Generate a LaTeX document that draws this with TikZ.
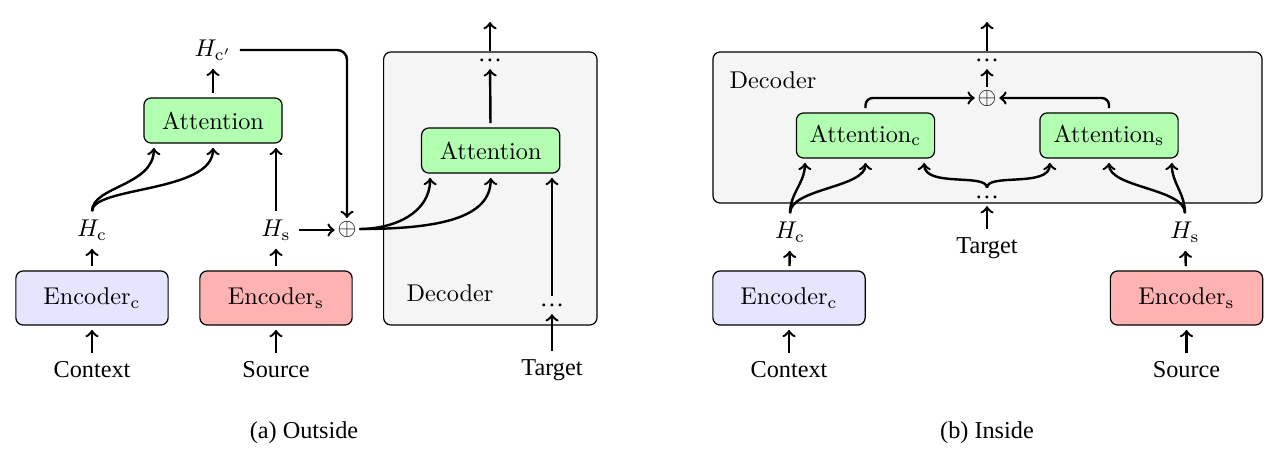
\documentclass[tikz,border=0pt]{standalone}
\usepackage{fontspec}
\newfontfamily\timesfont{Liberation Serif}
\usetikzlibrary{positioning}

\tikzset{
	box/.style={draw, rounded corners=3pt, line width=0.5pt, outer sep=2pt},
	enc/.style={box, minimum width=62.8pt, minimum height=22.3pt},
	att/.style={box, fill=green!30, minimum width=57pt, minimum height=18.6pt},
	dec/.style={draw, rounded corners=3pt, line width=0.5pt, fill=black!4},
	word/.style={font=\timesfont},
	dots/.style={inner sep=3pt, font=\timesfont},
	sum/.style={inner sep=1pt},
	arr/.style={->, line width=1pt},
}

\begin{document}
\begin{tikzpicture}[x=0.0145cm, y=-0.0145cm]
				\useasboundingbox (0,0) rectangle (1284,454);
				
				% (a) outside
				\node[dec, minimum width=88pt, minimum height=112.6pt] (dec) at (490.3,188.5) {};
				\node                               (declabel) at (450,293) {Decoder};
				
				\node[enc, fill=blue!10]                               (encc) at (92,298) {Encoder$_\mathrm{c}$};
				\node[enc, fill=red!30]                               (encs) at (276,298) {Encoder$_\mathrm{s}$};
				\node[word]                               (context) at (92,370) {Context};
				\node[word]                               (source) at (276,370) {Source};
				\node                               (hc) at (92,230) {$H_\mathrm{c}$};
				\node                               (hs) at (276,230) {$H_\mathrm{s}$};
				\node[att]                               (att) at (213,120.5) {Attention};
				\node                               (hcp) at (213,50) {$H_{\mathrm{c}'}$};
				\node[sum]                               (plus) at (347,229) {$\oplus$};
				
				\node[att]                               (attd) at (490.7,150.5) {Attention};
				\node[dots]                               (dtop) at (490,60) {\dots};
				\coordinate                               (out) at (490,22);
				\node[dots]                               (dbot) at (552,305) {\dots};
				\node[word]                               (target) at (552,370) {Target};
				
				\draw[arr] (context) -- (encc);
				\draw[arr] (source) -- (encs);
				\draw[arr] (encc) -- (hc);
				\draw[arr] (encs) -- (hs);
				\draw[arr] (hc.north) .. controls +(0,-25) and +(0,38) .. ([xshift=-24.4pt]att.south);
				\draw[arr] (hc.north) .. controls +(0,-25) and +(0,45) .. (att.south);
				\draw[arr] (hs) -- (hs |- att.south);
				\draw[arr] (att) -- (hcp);
				\draw[arr, rounded corners=4pt] (hcp.east) -| (plus);
				\draw[arr] (hs.east) -- (hs.east -| plus.west);
				\draw[arr] (plus.east) .. controls +(35,0) and +(0,35) .. ([xshift=-25pt]attd.south);
				\draw[arr] (plus.east) .. controls +(80,0) and +(0,40) .. (attd.south);
				\draw[arr] (target) -- (dbot);
				\draw[arr] (dbot) -- (dbot |- attd.south);
				\draw[arr] (attd) -- (dtop);
				\draw[arr] (dtop) -- (out);
				
				\node[word]                               (capa) at (304,433) {(a) Outside};
				
				% (b) inside
				\node[dec, minimum width=226.5pt, minimum height=62.3pt] (decr) at (987.5,127.5) {};
				\node                               (declabelr) at (773,80) {Decoder};
				
				\node[att]                               (attc) at (865.5,135.5) {Attention$_\mathrm{c}$};
				\node[att]                               (atts) at (1109,135.5) {Attention$_\mathrm{s}$};
				\node[sum]                               (plusr) at (987,98) {$\oplus$};
				\node[dots]                               (dtopr) at (987,60) {\dots};
				\coordinate                               (outr) at (987,22);
				\node[dots]                               (dbotr) at (987,197) {\dots};
				\node[word]                               (targetr) at (987,248) {Target};
				
				\node                               (hcr) at (790,232) {$H_\mathrm{c}$};
				\node                               (hsr) at (1185,232) {$H_\mathrm{s}$};
				\node[enc, fill=blue!10]                               (enccr) at (789,298) {Encoder$_\mathrm{c}$};
				\node[enc, fill=red!30]                               (encsr) at (1186.5,298) {Encoder$_\mathrm{s}$};
				\node[word]                               (contextr) at (789,370) {Context};
				\node[word]                               (sourcer) at (1186.5,370) {Source};
				
				\draw[arr, rounded corners=3pt] (attc.north) |- (plusr);
				\draw[arr, rounded corners=3pt] (atts.north) |- (plusr);
				\draw[arr] (plusr) -- (dtopr);
				\draw[arr] (dtopr) -- (outr);
				\draw[arr] (targetr) -- (dbotr);
				\draw[arr] (dbotr.north) .. controls +(0,-15) and +(0,25) .. ([xshift=24.2pt]attc.south);
				\draw[arr] (dbotr.north) .. controls +(0,-15) and +(0,25) .. ([xshift=-24.4pt]atts.south);
				\draw[arr] (hcr.north) .. controls +(0,-20) and +(0,20) .. ([xshift=-25pt]attc.south);
				\draw[arr] (hcr.north) .. controls +(0,-25) and +(0,25) .. (attc.south);
				\draw[arr] (hsr.north) .. controls +(0,-20) and +(0,20) .. ([xshift=25.9pt]atts.south);
				\draw[arr] (hsr.north) .. controls +(0,-25) and +(0,25) .. (atts.south);
				\draw[arr] (contextr) -- (enccr);
				\draw[arr] (sourcer) -- (encsr);
				\draw[arr] (enccr) -- (hcr);
				\draw[arr] (encsr) -- (hsr);
				
				\node[word]                               (capb) at (987,433) {(b) Inside};
				
			\end{tikzpicture}
\end{document}
